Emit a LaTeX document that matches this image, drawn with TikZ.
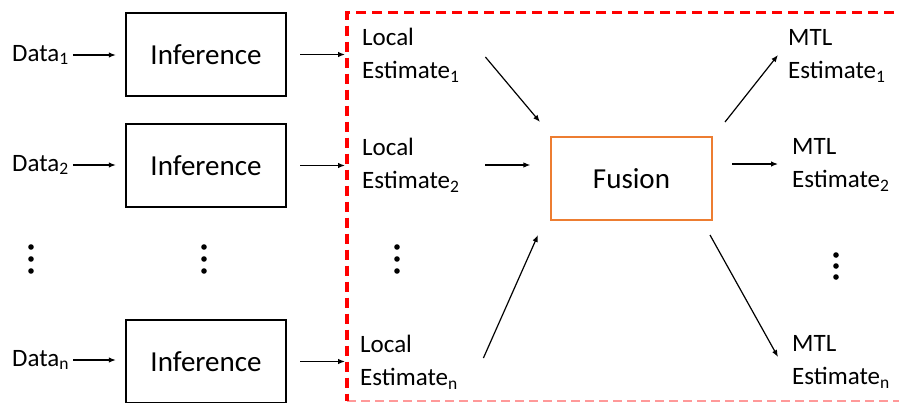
\documentclass[tikz,border=0pt]{standalone}
\usepackage{fontspec}
\setmainfont{Carlito}
\usetikzlibrary{arrows.meta,calc}
\definecolor{fusorange}{RGB}{237,125,49}
\begin{document}
\begin{tikzpicture}[x=1pt,y=-1pt,
  arr/.style={-{Latex[length=7pt,width=5.5pt]},line width=1.2pt},
  infbox/.style={draw,line width=2.4pt,minimum width=160pt,minimum height=82.6pt,inner sep=0pt,font=\fontsize{29}{34}\selectfont},
  fusbox/.style={draw=fusorange,line width=2.4pt,minimum width=160.6pt,minimum height=82.6pt,inner sep=0pt,font=\fontsize{29}{34}\selectfont},
  lbl/.style={inner sep=0pt,anchor=west,align=left,font=\fontsize{25}{33}\selectfont},
  est/.style={lbl,text width=110pt},
  regionred/.style={draw=red,line width=3.2pt,dash pattern=on 10pt off 6pt},
  regionpale/.style={draw=red!40,line width=1.6pt,dash pattern=on 9pt off 5pt},
  vdot/.style={fill=black,circle,inner sep=0pt,minimum size=5.6pt}
]
\clip (0,0) rectangle (899,402);
% dashed region
\coordinate (bl) at (347,12.5);
\coordinate (br) at (910,12.5);
\coordinate (bbl) at (347,401);
\coordinate (bbr) at (910,401);
\draw[regionpale] (bbl) -- (bbr);
\draw[regionred] (br) -- (bl) -- (bbl);

% left column
\node[lbl] (d1) at (12,55) {Data\textsubscript{1}};
\node[lbl] (d2) at (12,165) {Data\textsubscript{2}};
\node[lbl] (dn) at (12,360) {Data\textsubscript{n}};

\node[infbox] (i1) at (206,54.5) {Inference};
\node[infbox] (i2) at (206,165.5) {Inference};
\node[infbox] (in) at (206,361.5) {Inference};

\node[est] (l1) at (362,55) {Local\\Estimate\textsubscript{1}};
\node[est] (l2) at (362,165) {Local\\Estimate\textsubscript{2}};
\node[est] (ln) at (360,362) {Local\\Estimate\textsubscript{n}};

\node[fusbox] (f) at (631.5,178.5) {Fusion};

\node[lbl] (m1) at (788,56) {MTL\\Estimate\textsubscript{1}};
\node[lbl] (m2) at (792,165) {MTL\\Estimate\textsubscript{2}};
\node[lbl] (mn) at (792,362) {MTL\\Estimate\textsubscript{n}};

% vertical dots
\foreach \x/\nm in {31/a,204/b,397/c}{
  \node[vdot] (\nm1) at (\x,247) {};
  \node[vdot] (\nm2) at (\x,259) {};
  \node[vdot] (\nm3) at (\x,271) {};
}
\node[vdot] (e1) at (836,255) {};
\node[vdot] (e2) at (836,266) {};
\node[vdot] (e3) at (836,277) {};

% arrows data -> inference
\draw[arr,shorten <=4pt,shorten >=9pt] (d1.east) -- (d1.east -| i1.west);
\draw[arr,shorten <=4pt,shorten >=9pt] (d2.east) -- (d2.east -| i2.west);
\draw[arr,shorten <=4pt,shorten >=9pt] (dn.east) -- (dn.east -| in.west);

% inference -> region
\draw[arr,shorten <=13pt,shorten >=2pt] (i1.east) -- (i1.east -| bl);
\draw[arr,shorten <=13pt,shorten >=2pt] (i2.east) -- (i2.east -| bl);
\draw[arr,shorten <=13pt,shorten >=2pt] (in.east) -- (in.east -| bl);

% local -> fusion
\draw[arr] ($(l1.east)+(13,2)$) -- ($(f.north west)+(-10,-14)$);
\draw[arr] ($(l2.east)+(13,0)$) -- ($(l2.east)+(58,0)$);
\draw[arr] ($(ln.east)+(13,-4)$) -- ($(f.south west)+(-12,14)$);

% fusion -> MTL
\draw[arr] ($(f.north east)+(12,-14)$) -- ($(m1.west)+(-10,-1)$);
\draw[arr] ($(m2.west)+(-60,-1)$) -- ($(m2.west)+(-14,-1)$);
\draw[arr] ($(f.south east)+(-3,14)$) -- ($(mn.west)+(-14,-5)$);
\end{tikzpicture}
\end{document}
